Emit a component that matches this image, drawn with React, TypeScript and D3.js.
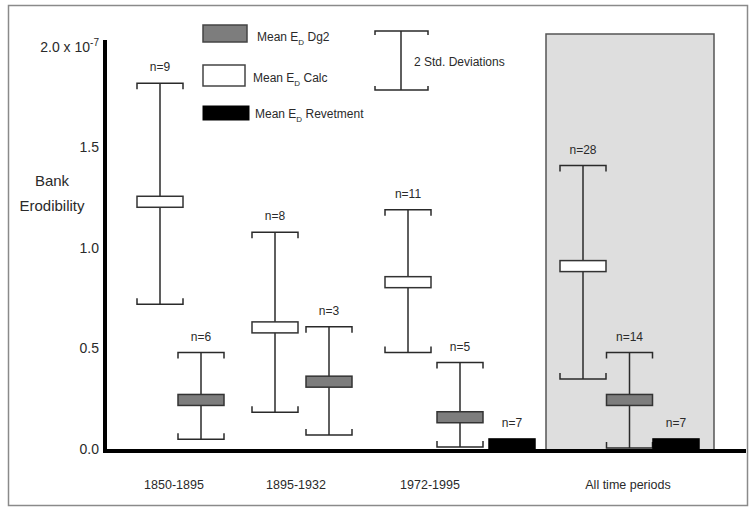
import React from "react";
import * as d3 from "d3";

const categories = ["1850-1895", "1895-1932", "1972-1995", "All time periods"];
const seriesNames = ["Calc", "Dg2", "Revetment"];

const calcMean = [1.23, 0.605, 0.83, 0.91];
const calcLow = [0.72, 0.183, 0.48, 0.348];
const calcHigh = [1.82, 1.078, 1.19, 1.41];
const calcN = [9, 8, 11, 28];

const dg2Mean = [0.244, 0.335, 0.158, 0.244];
const dg2Low = [0.048, 0.07, 0.01, 0.005];
const dg2High = [0.48, 0.608, 0.43, 0.48];
const dg2N = [6, 3, 5, 14];

const revMean = [null, null, 0.03, 0.03];
const revLow = [null, null, 0.0, 0.0];
const revHigh = [null, null, 0.05, 0.05];
const revN = [null, null, 7, 7];

const yTicks = [0, 0.5, 1.0, 1.5];

// layout
const groupCenter = [180.5, 302, 460, 629.5];
const groupSpread = [20.5, 27, 52, 46.5];
const labelX = [174, 296, 430, 628];

const FONT = "'Liberation Sans', Arial, Helvetica, sans-serif";
const INK = "#2a2a2a";

type Mark = { cat: number; series: string; mean: number; lo: number; hi: number; n: number };

function buildMarks(): Mark[] {
  const out: Mark[] = [];
  categories.forEach((_, i) => {
    out.push({ cat: i, series: "Calc", mean: calcMean[i], lo: calcLow[i], hi: calcHigh[i], n: calcN[i] });
    out.push({ cat: i, series: "Dg2", mean: dg2Mean[i], lo: dg2Low[i], hi: dg2High[i], n: dg2N[i] });
    if (revMean[i] != null) {
      out.push({ cat: i, series: "Revetment", mean: revMean[i] as number, lo: revLow[i] as number, hi: revHigh[i] as number, n: revN[i] as number });
    }
  });
  return out;
}

const fillOf: Record<string, string> = { Calc: "#ffffff", Dg2: "#7d7d7d", Revetment: "#000000" };

export default function App() {
  const W = 750, H = 508;
  const y = d3.scaleLinear().domain([0, 2]).range([449, 47]);
  const marks = buildMarks();

  const xOf = (m: Mark) => {
    const present = seriesNames.filter((s) => marks.some((k) => k.cat === m.cat && k.series === s));
    const sub = d3.scalePoint<string>().domain(present).range([-groupSpread[m.cat], groupSpread[m.cat]]);
    return groupCenter[m.cat] + (sub(m.series) as number);
  };

  const capW = 23;
  const tick = 6;
  const boxW = 23;
  const boxH = 11;

  return (
    <svg width={W} height={H} style={{ position: "absolute", left: 0, top: 0, background: "#fff" }} fontFamily={FONT}>
      <rect x={8.5} y={5.5} width={739} height={500} fill="#fff" stroke="#8a8a8a" strokeWidth={1.5} />

      {/* shaded all-time panel */}
      <rect x={546} y={34} width={168} height={y(0) + 2 - 34} fill="#dedede" stroke="#555" strokeWidth={1.5} />

      {/* axes */}
      <line x1={105} x2={105} y1={40} y2={y(0) + 4} stroke="#000" strokeWidth={4} />
      <line x1={103} x2={746} y1={y(0) + 2} y2={y(0) + 2} stroke="#000" strokeWidth={4} />

      {/* y tick labels */}
      {yTicks.map((t) => (
        <text key={t} x={99} y={y(t)} dy="0.35em" textAnchor="end" fontSize={14} fill={INK}>
          {d3.format(".1f")(t)}
        </text>
      ))}
      <text x={99} y={y(2)} dy="0.35em" textAnchor="end" fontSize={14} fill={INK}>
        2.0 x 10<tspan dy="-6" fontSize={10}>-7</tspan>
      </text>
      <text x={52} y={186} textAnchor="middle" fontSize={15} fill={INK}>Bank</text>
      <text x={52} y={211} textAnchor="middle" fontSize={15} fill={INK}>Erodibility</text>

      {/* x labels */}
      {categories.map((c, i) => (
        <text key={c} x={labelX[i]} y={489} textAnchor="middle" fontSize={12.5} fill={INK}>{c}</text>
      ))}

      {/* error bars */}
      {marks.map((m, k) => {
        const cx = xOf(m);
        const yt = y(m.hi), yb = y(m.lo), ym = y(m.mean);
        const isRev = m.series === "Revetment";
        return (
          <g key={k} stroke={INK} strokeWidth={1.5} fill="none">
            {!isRev && (
              <>
                <line x1={cx} x2={cx} y1={yt} y2={yb} />
                <path d={`M${cx - capW},${yt + tick}V${yt}H${cx + capW}V${yt + tick}`} />
                <path d={`M${cx - capW},${yb - tick}V${yb}H${cx + capW}V${yb - tick}`} />
              </>
            )}
            <rect x={cx - boxW} y={isRev ? y(m.hi) : ym - boxH / 2} width={boxW * 2} height={isRev ? y(0) - y(m.hi) : boxH}
              fill={fillOf[m.series]} stroke={isRev ? "#000" : "#333"} />
            <text x={cx} y={(isRev ? y(m.hi) : yt) - 12} textAnchor="middle" fontSize={12} fill={INK} stroke="none">
              n={m.n}
            </text>
          </g>
        );
      })}

      {/* legend */}
      <g fontSize={12} fill={INK}>
        <rect x={203} y={25} width={44} height={17} fill={fillOf.Dg2} stroke="#444" strokeWidth={1.5} />
        <text x={257} y={41}>Mean E<tspan dy="4" fontSize={8}>D</tspan><tspan dy="-4"> Dg2</tspan></text>
        <rect x={203} y={65} width={42} height={21} fill="#fff" stroke="#444" strokeWidth={1.5} />
        <text x={253} y={82}>Mean E<tspan dy="4" fontSize={8}>D</tspan><tspan dy="-4"> Calc</tspan></text>
        <rect x={203} y={106} width={46} height={14} fill="#000" stroke="#000" />
        <text x={255} y={118}>Mean E<tspan dy="4" fontSize={8}>D</tspan><tspan dy="-4"> Revetment</tspan></text>
        <g stroke={INK} strokeWidth={1.5} fill="none">
          <line x1={401} x2={401} y1={31} y2={90} />
          <path d={`M375,${31 + 4}V31H428V${31 + 4}`} />
          <path d={`M375,${90 - 4}V90H428V${90 - 4}`} />
        </g>
        <text x={414} y={66}>2 Std. Deviations</text>
      </g>
    </svg>
  );
}
